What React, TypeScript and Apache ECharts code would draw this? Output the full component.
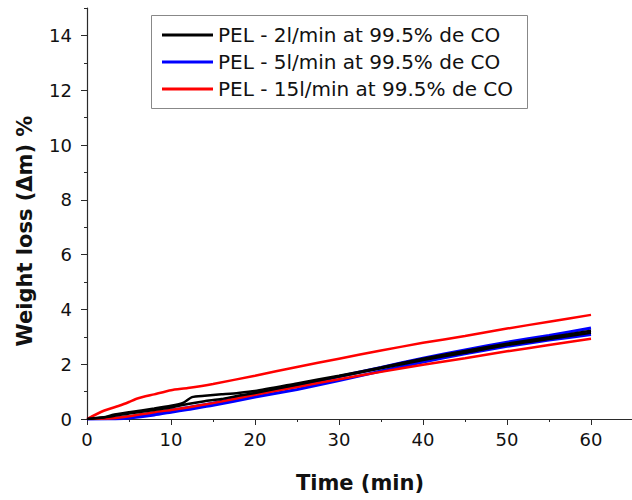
import React, { useEffect, useRef } from "react";
import * as echarts from "echarts";

// ---- tick values ----
const xMajorTicks = [0, 10, 20, 30, 40, 50, 60];
const xMinorTicks = [5, 15, 25, 35, 45, 55, 65];
const yMajorTicks = [0, 2, 4, 6, 8, 10, 12, 14];
const yMinorTicks = [1, 3, 5, 7, 9, 11, 13, 15];

// ---- legend names ----
const name2 = "PEL - 2l/min at 99.5% de CO";
const name5 = "PEL - 5l/min at 99.5% de CO";
const name15 = "PEL - 15l/min at 99.5% de CO";

// ---- series data (time in min, weight loss %) ----
const black1Time = [0, 2, 3, 5, 8, 10, 11.5, 12.5, 14, 16, 18, 20, 25, 30, 35, 40, 45, 50, 55, 60];
const black1Value = [0, 0.05, 0.15, 0.25, 0.38, 0.48, 0.6, 0.8, 0.85, 0.9, 0.95, 1.02, 1.3, 1.58, 1.88, 2.2, 2.48, 2.75, 2.98, 3.22];
const black2Time = [0, 3, 5, 8, 10, 12, 14, 16, 18, 20, 25, 30, 35, 40, 45, 50, 55, 60];
const black2Value = [0, 0.1, 0.2, 0.33, 0.42, 0.55, 0.65, 0.73, 0.85, 0.95, 1.25, 1.55, 1.85, 2.15, 2.42, 2.7, 2.92, 3.15];

const blue1Time = [0, 3, 5, 8, 10, 12, 15, 20, 25, 30, 35, 40, 45, 50, 55, 60];
const blue1Value = [0, 0.03, 0.08, 0.22, 0.32, 0.42, 0.58, 0.9, 1.22, 1.55, 1.88, 2.22, 2.52, 2.8, 3.05, 3.32];
const blue2Time = [0, 3, 5, 8, 10, 12, 15, 20, 25, 30, 35, 40, 45, 50, 55, 60];
const blue2Value = [0, 0, 0.04, 0.15, 0.25, 0.35, 0.5, 0.8, 1.08, 1.4, 1.75, 2.08, 2.38, 2.65, 2.88, 3.08];

const red1Time = [0, 2, 4, 5, 6, 8, 10, 12, 15, 20, 25, 30, 35, 40, 45, 50, 55, 60];
const red1Value = [0, 0.3, 0.5, 0.62, 0.75, 0.9, 1.05, 1.13, 1.28, 1.58, 1.9, 2.2, 2.5, 2.78, 3.03, 3.3, 3.55, 3.8];
const red2Time = [0, 3, 5, 8, 10, 12, 15, 20, 25, 30, 35, 40, 45, 50, 55, 60];
const red2Value = [0, 0.03, 0.1, 0.25, 0.33, 0.42, 0.58, 0.88, 1.17, 1.45, 1.72, 1.98, 2.22, 2.47, 2.7, 2.93];

const FONT = "DejaVu Sans";
const AXIS_COLOR = "#2a2a2a";

const zip = (t: number[], v: number[]) => t.map((x, i) => [x, v[i]]);

const lineSeries = (name: string, color: string, data: number[][], width = 2.5) => ({
  type: "line",
  name,
  data,
  showSymbol: false,
  symbol: "none",
  smooth: 0.2,
  color,
  itemStyle: { color },
  lineStyle: { color, width },
  xAxisIndex: 0,
  yAxisIndex: 0,
});

export default function App() {
  const ref = useRef<HTMLDivElement>(null);

  useEffect(() => {
    if (!ref.current) return;
    const chart = echarts.init(ref.current, null, { renderer: "svg" });
    const option: any = {
      animation: false,
      backgroundColor: "#fff",
      grid: { left: 87, right: 5, top: 8, bottom: 81, containLabel: false },
      xAxis: [
        {
          type: "value",
          min: 0,
          max: 70,
          position: "bottom",
          axisLine: { show: true, lineStyle: { color: AXIS_COLOR, width: 1.2 } },
          axisTick: { show: true, inside: false, length: 6, customValues: xMajorTicks, lineStyle: { color: AXIS_COLOR } },
          axisLabel: { customValues: xMajorTicks, fontSize: 18, fontFamily: FONT, color: "#111", margin: 11 },
          splitLine: { show: false },
        },
        {
          type: "value",
          min: 0,
          max: 70,
          position: "bottom",
          offset: 0,
          axisLine: { show: false },
          axisTick: { show: true, inside: false, length: 3, customValues: xMinorTicks, lineStyle: { color: AXIS_COLOR } },
          axisLabel: { show: false },
          splitLine: { show: false },
        },
      ],
      yAxis: [
        {
          type: "value",
          min: 0,
          max: 15,
          position: "left",
          axisLine: { show: true, lineStyle: { color: AXIS_COLOR, width: 1.2 } },
          axisTick: { show: true, inside: false, length: 6, customValues: yMajorTicks, lineStyle: { color: AXIS_COLOR } },
          axisLabel: { customValues: yMajorTicks, fontSize: 18, fontFamily: FONT, color: "#111", margin: 15 },
          splitLine: { show: false },
        },
        {
          type: "value",
          min: 0,
          max: 15,
          position: "left",
          offset: 0,
          axisLine: { show: false },
          axisTick: { show: true, inside: false, length: 3, customValues: yMinorTicks, lineStyle: { color: AXIS_COLOR } },
          axisLabel: { show: false },
          splitLine: { show: false },
        },
      ],
      legend: {
        show: true,
        left: 162,
        top: 21.5,
        orient: "vertical",
        padding: 0,
        itemGap: 0,
        itemWidth: 51,
        itemHeight: 3,
        icon: "rect",
        data: [name2, name5, name15],
        textStyle: { fontSize: 20, fontFamily: FONT, color: "#111", lineHeight: 27 },
      },
      graphic: [
        {
          type: "rect",
          shape: { x: 151.5, y: 15.5, width: 376, height: 93 },
          style: { fill: "none", stroke: "#888", lineWidth: 1 },
          z: 10,
        },
        {
          type: "text",
          x: 360,
          y: 483,
          style: {
            text: "Time (min)",
            font: `bold 21px "${FONT}"`,
            fill: "#111",
            textAlign: "center",
            textVerticalAlign: "middle",
          },
        },
        {
          type: "text",
          x: 25,
          y: 231,
          rotation: Math.PI / 2,
          style: {
            text: "Weight loss (\u0394m) %",
            font: `bold 21px "${FONT}"`,
            fill: "#111",
            textAlign: "center",
            textVerticalAlign: "middle",
          },
        },
      ],
      series: [
        lineSeries(name5, "#0000ff", zip(blue1Time, blue1Value), 3),
        lineSeries(name5, "#0000ff", zip(blue2Time, blue2Value), 3),
        lineSeries(name15, "#ff0000", zip(red1Time, red1Value), 2.5),
        lineSeries(name15, "#ff0000", zip(red2Time, red2Value), 2.5),
        lineSeries(name2, "#000000", zip(black1Time, black1Value), 2.5),
        lineSeries(name2, "#000000", zip(black2Time, black2Value), 2.5),
      ],
    };
    chart.setOption(option);
    return () => chart.dispose();
  }, []);

  return (
    <div style={{ position: "absolute", left: 0, top: 0, width: 632, height: 500, overflow: "hidden", background: "#fff" }}>
      <div ref={ref} style={{ width: 680, height: 500 }} />
    </div>
  );
}
